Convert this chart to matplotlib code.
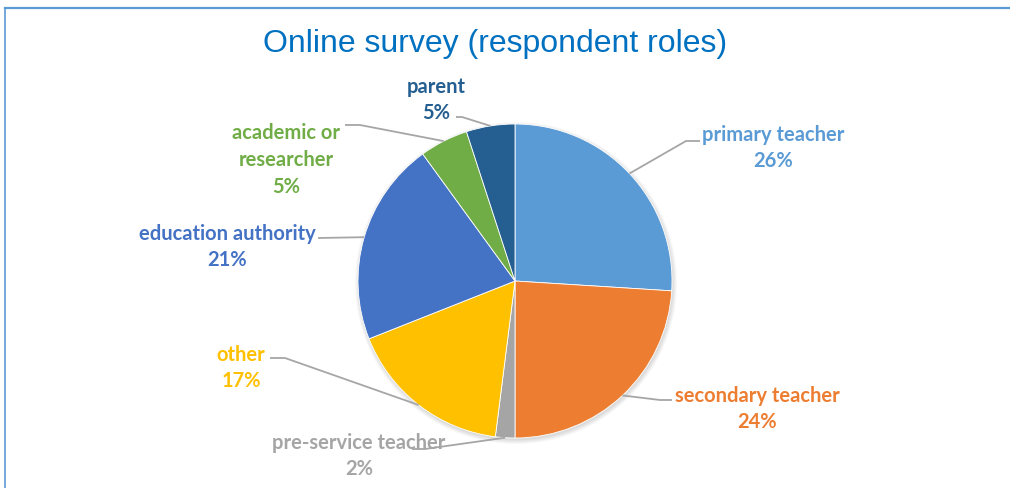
import matplotlib
matplotlib.use('Agg')
import matplotlib.pyplot as plt
import numpy as np
from matplotlib.patches import Circle

# data (clockwise from 12 o'clock)
roles = ['primary teacher', 'secondary teacher', 'pre-service teacher', 'other',
         'education authority', 'academic or\nresearcher', 'parent']
shares = [26, 24, 2, 17, 21, 5, 5]
colors = ['#5B9BD5', '#ED7D31', '#A5A5A5', '#FFC000', '#4472C4', '#70AD47', '#255E91']

W, H = 1010, 488
def fy(y):
    return H - y

# label centre (pixel coords, y down) and leader elbow points
label_pos = [(773, 148), (757, 409), (359, 456), (241, 368), (227, 247), (286, 160), (436, 100)]
elbows = [[(686, 141), (700, 141)],
          [(660, 400), (672, 400)],
          [(425, 449), (412, 449)],
          [(285, 358), (270, 358)],
          [(318, 238)],
          [(360, 125), (345, 125)],
          [(462, 117), (456, 117)]]

fig = plt.figure(figsize=(W / 100, H / 100), dpi=100)
ax = fig.add_axes([0, 0, 1, 1])

cx, cy, r = 515, fy(281), 157

# soft shadow
for i in range(6):
    ax.add_patch(Circle((cx + 1, cy - 2), r + 4 - i * 0.8, color='black', alpha=0.025, lw=0, zorder=1))

wedges, _ = ax.pie(shares, colors=colors, startangle=90, counterclock=False,
                   center=(cx, cy), radius=r, frame=True,
                   wedgeprops=dict(linewidth=0.6, edgecolor='white', zorder=2))
ax.set_xlim(0, W)
ax.set_ylim(0, H)
ax.axis('off')

total = float(sum(shares))
acc = 0
for i, (role, v) in enumerate(zip(roles, shares)):
    mid = (acc + v / 2) / total * 360
    acc += v
    ang = np.radians(90 - mid)
    ax_, ay_ = cx + r * np.cos(ang), cy + r * np.sin(ang)
    xs = [ax_] + [p[0] for p in elbows[i]]
    ys = [ay_] + [fy(p[1]) for p in elbows[i]]
    ax.plot(xs, ys, color='#A6A6A6', lw=1.3, zorder=3, solid_capstyle='butt')
    lx, ly = label_pos[i]
    ax.text(lx, fy(ly), '%s\n%d%%' % (role, v), ha='center', va='center',
            color=colors[i], fontsize=14.5, fontweight='bold', family=['Lato', 'DejaVu Sans'],
            linespacing=1.42, zorder=4)

ax.text(W / 2 - 10, fy(44), 'Online survey (respondent roles)', ha='center', va='center',
        color='#0070C0', fontsize=23, family=['Liberation Sans Narrow', 'Liberation Sans'])

# frame edge
ax.plot([4.5, W], [fy(7.5), fy(7.5)], color='#5B9BD5', lw=1.6, zorder=5)
ax.plot([4.5, 4.5], [fy(7.5), 0], color='#5B9BD5', lw=1.2, zorder=5)

fig.savefig('out.png', dpi=100)
